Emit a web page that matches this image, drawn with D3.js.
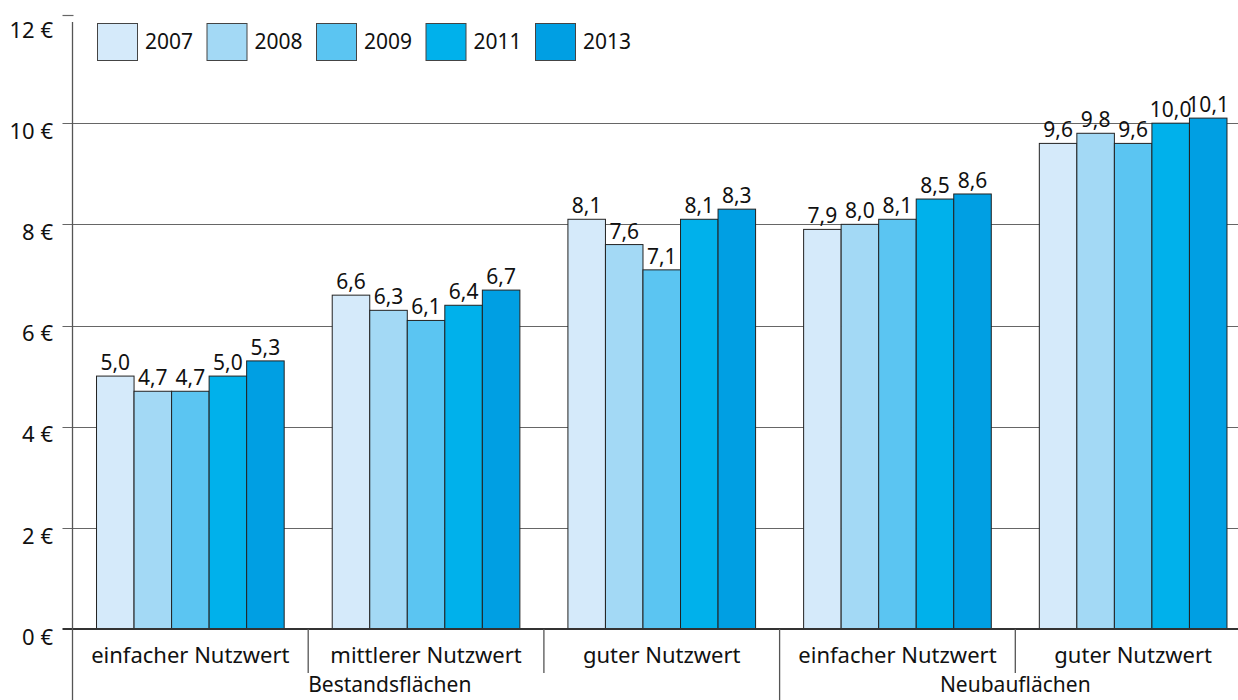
<!DOCTYPE html>
<html>
<head>
<meta charset="utf-8">
<script src="https://cdn.jsdelivr.net/npm/d3@7"></script>
<style>
  html, body { margin: 0; padding: 0; background: #fff; }
  svg { display: block; font-family: "Noto Sans", "Open Sans", sans-serif; }
</style>
</head>
<body>
<svg id="chart" width="1238" height="700"></svg>
<script>
// Nettokaltmieten je m² nach Lage und Nutzwert
const categories = ["einfacher Nutzwert", "mittlerer Nutzwert", "guter Nutzwert", "einfacher Nutzwert", "guter Nutzwert"];
const categoryGroups = ["Bestandsflächen", "Bestandsflächen", "Bestandsflächen", "Neubauflächen", "Neubauflächen"];
const years = ["2007", "2008", "2009", "2011", "2013"];
const values2007 = [5.0, 6.6, 8.1, 7.9, 9.6];
const values2008 = [4.7, 6.3, 7.6, 8.0, 9.8];
const values2009 = [4.7, 6.1, 7.1, 8.1, 9.6];
const values2011 = [5.0, 6.4, 8.1, 8.5, 10.0];
const values2013 = [5.3, 6.7, 8.3, 8.6, 10.1];
const yTicks = [0, 2, 4, 6, 8, 10, 12];
const colors = ["#d5eafa", "#a3d9f5", "#5bc5f2", "#00b1eb", "#009fe3"];

const series = [values2007, values2008, values2009, values2011, values2013];

const svg = d3.select("#chart");
const plotLeft = 72.5, plotRight = 1251, plotTop = 22, plotBottom = 629;

const x0 = d3.scaleBand().domain(d3.range(categories.length)).range([plotLeft, plotRight]).paddingInner(0).paddingOuter(0);
const x1 = d3.scaleBand().domain(years).range([0, x0.bandwidth()]).paddingOuter(0.64).paddingInner(0);
const y = d3.scaleLinear().domain([0, 12]).range([plotBottom, plotTop]);
const color = d3.scaleOrdinal().domain(years).range(colors);
const fmt = v => d3.format(".1f")(v).replace(".", ",");

// Gridlines
svg.append("g")
  .selectAll("line")
  .data(yTicks.filter(t => t > 0 && t < 12))
  .join("line")
  .attr("x1", plotLeft - 10).attr("x2", 1238)
  .attr("y1", d => Math.round(y(d)) + 0.5).attr("y2", d => Math.round(y(d)) + 0.5)
  .attr("stroke", "#666").attr("stroke-width", 1.2);

// Y tick labels
svg.append("g")
  .selectAll("text")
  .data(yTicks)
  .join("text")
  .attr("x", 53)
  .attr("y", d => y(d) + 8)
  .attr("dy", "0.35em")
  .attr("text-anchor", "end")
  .attr("font-size", 22)
  .attr("fill", "#111")
  .text(d => d + " €");

// Top tick
svg.append("line")
  .attr("x1", plotLeft - 10).attr("x2", plotLeft + 1)
  .attr("y1", y(12) - 6.5).attr("y2", y(12) - 6.5)
  .attr("stroke", "#666").attr("stroke-width", 1.2);

// Bars
const groups = svg.append("g")
  .selectAll("g")
  .data(categories.map((c, i) => i))
  .join("g")
  .attr("transform", i => `translate(${x0(i)},0)`);

groups.selectAll("rect")
  .data(i => years.map((yr, k) => ({ yr, v: series[k][i] })))
  .join("rect")
  .attr("x", d => x1(d.yr))
  .attr("y", d => y(d.v))
  .attr("width", x1.bandwidth())
  .attr("height", d => y(0) - y(d.v))
  .attr("fill", d => color(d.yr))
  .attr("stroke", "#222")
  .attr("stroke-width", 1);

groups.selectAll("text")
  .data(i => years.map((yr, k) => ({ yr, v: series[k][i] })))
  .join("text")
  .attr("x", d => x1(d.yr) + x1.bandwidth() / 2)
  .attr("y", d => y(d.v) - 6)
  .attr("text-anchor", "middle")
  .attr("font-size", 21)
  .attr("fill", "#111")
  .text(d => fmt(d.v));

// Baseline
svg.append("line")
  .attr("x1", plotLeft - 10).attr("x2", 1238)
  .attr("y1", y(0)).attr("y2", y(0))
  .attr("stroke", "#333").attr("stroke-width", 2);

// Y axis line
svg.append("line")
  .attr("x1", plotLeft).attr("x2", plotLeft)
  .attr("y1", y(12)).attr("y2", 700)
  .attr("stroke", "#555").attr("stroke-width", 1.3);

// Category separators
const groupBreaks = d3.range(1, categories.length).map(i => ({ i, major: categoryGroups[i] !== categoryGroups[i - 1] }));
svg.append("g")
  .selectAll("line")
  .data(groupBreaks)
  .join("line")
  .attr("x1", d => x0(d.i)).attr("x2", d => x0(d.i))
  .attr("y1", y(0)).attr("y2", d => d.major ? 700 : y(0) + 44)
  .attr("stroke", "#555").attr("stroke-width", 1.3);

// Category labels
svg.append("g")
  .selectAll("text")
  .data(categories)
  .join("text")
  .attr("x", (d, i) => x0(i) + x0.bandwidth() / 2)
  .attr("y", y(0) + 34)
  .attr("text-anchor", "middle")
  .attr("font-size", 22)
  .attr("fill", "#111")
  .text(d => d);

// Group labels
const groupNames = Array.from(new Set(categoryGroups));
const groupSpans = groupNames.map((g, gi) => {
  const idx = categoryGroups.map((c, i) => c === g ? i : -1).filter(i => i >= 0);
  const start = gi === 0 ? 0 : x0(idx[0]);
  const end = x0(idx[idx.length - 1]) + x0.bandwidth();
  return { g, mid: (start + end) / 2 };
});
svg.append("g")
  .selectAll("text")
  .data(groupSpans)
  .join("text")
  .attr("x", d => d.mid)
  .attr("y", 692)
  .attr("text-anchor", "middle")
  .attr("font-size", 21)
  .attr("fill", "#111")
  .text(d => d.g);

// Legend
const legend = svg.append("g")
  .selectAll("g")
  .data(years)
  .join("g")
  .attr("transform", (d, i) => `translate(${97 + i * 109.5},23)`);
legend.append("rect")
  .attr("x", 0.5).attr("y", 0.5)
  .attr("width", 40).attr("height", 37)
  .attr("fill", d => color(d))
  .attr("stroke", "#444").attr("stroke-width", 1);
legend.append("text")
  .attr("x", 48).attr("y", 19)
  .attr("dy", "0.35em")
  .attr("font-size", 21)
  .attr("fill", "#111")
  .text(d => d);
</script>
</body>
</html>
